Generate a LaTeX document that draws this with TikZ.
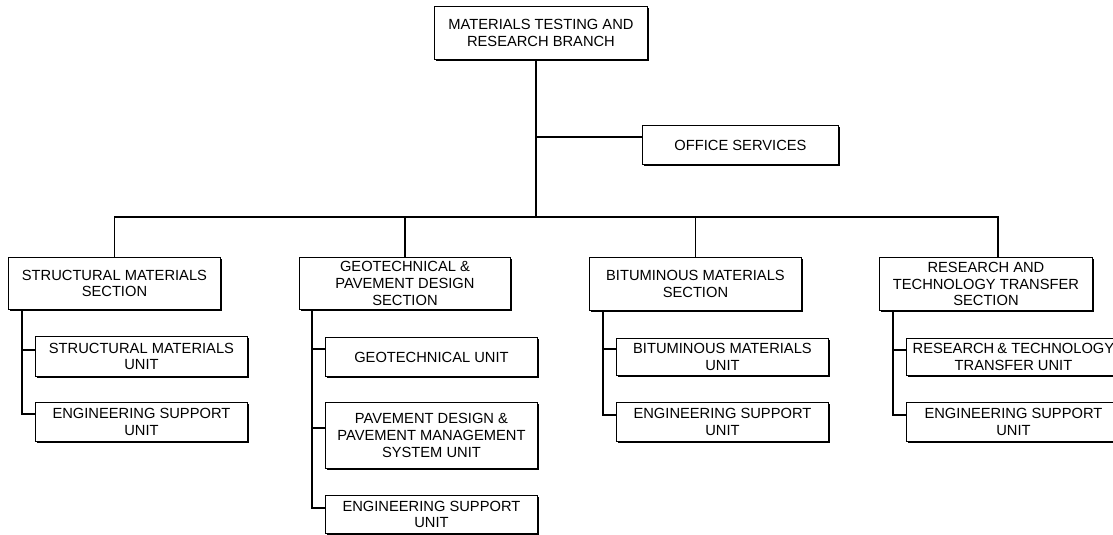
\documentclass[tikz,border=0pt]{standalone}
\usepackage{fontspec}
\setmainfont{Liberation Sans}
\usetikzlibrary{calc,shadows}
\begin{document}
\begin{tikzpicture}[x=1pt,y=-1pt,
  box/.style={draw=black, line width=0.9pt, fill=white, anchor=north west,
    inner sep=0pt, align=center, text=black,
    font=\fontsize{14.7}{16.9}\selectfont,
    drop shadow={shadow xshift=2pt, shadow yshift=-2pt, opacity=1, fill=black}},
  link/.style={draw=black, line width=1.1pt}]
\clip (0,0) rectangle (1113,535);
\fill[white] (0,0) rectangle (1113,535);

% head and staff office
\node[box, minimum width=213pt, minimum height=53pt] (head) at (434,6)
  {MATERIALS TESTING AND\\RESEARCH BRANCH};
\node[box, minimum width=196pt, minimum height=39pt] (office) at (642,125)
  {OFFICE SERVICES};

% sections
\node[box, minimum width=212pt, minimum height=52pt] (s1) at (8,257)
  {STRUCTURAL MATERIALS\\SECTION};
\node[box, minimum width=211pt, minimum height=52pt] (s2) at (299,257)
  {GEOTECHNICAL \&\\PAVEMENT DESIGN\\SECTION};
\node[box, minimum width=212pt, minimum height=53pt] (s3) at (589,257)
  {BITUMINOUS MATERIALS\\SECTION};
\node[box, minimum width=213pt, minimum height=53pt] (s4) at (879,257)
  {RESEARCH AND\\TECHNOLOGY TRANSFER\\SECTION};

% units
\node[box, minimum width=212pt, minimum height=40pt] (u11) at (35,336)
  {STRUCTURAL MATERIALS\\UNIT};
\node[box, minimum width=212pt, minimum height=39pt] (u12) at (35,402)
  {ENGINEERING SUPPORT\\UNIT};
\node[box, minimum width=212pt, minimum height=39pt] (u21) at (325,337)
  {GEOTECHNICAL UNIT};
\node[box, minimum width=212pt, minimum height=66pt] (u22) at (325,402)
  {PAVEMENT DESIGN \&\\PAVEMENT MANAGEMENT\\SYSTEM UNIT};
\node[box, minimum width=212pt, minimum height=38pt] (u23) at (325,495)
  {ENGINEERING SUPPORT\\UNIT};
\node[box, minimum width=212pt, minimum height=37pt] (u31) at (616,338)
  {BITUMINOUS MATERIALS\\UNIT};
\node[box, minimum width=212pt, minimum height=39pt] (u32) at (616,402)
  {ENGINEERING SUPPORT\\UNIT};
\node[box, minimum width=214pt, minimum height=37pt] (u41) at (906,338)
  {RESEARCH\kern-1pt{} \& TECHNOLOGY\\TRANSFER UNIT};
\node[box, minimum width=214pt, minimum height=39pt] (u42) at (906,402)
  {ENGINEERING SUPPORT\\UNIT};

% trunk, office branch and bus
\coordinate (bus) at (536,217);
\coordinate (t4) at (998,257);
\draw[link] (head.south -| bus) -- (bus);
\draw[link] (head.south -| bus) |- ($(office.north west)+(0,12)$);
\draw[link] (s1.north) |- (t4 |- bus) -- (t4);
\draw[link] (s2.north) -- (s2.north |- bus);
\draw[link] (s3.north) -- (s3.north |- bus);

% section spines to units
\draw[link] ([xshift=14pt]s1.south west) |- ($(u11.north west)+(0,14)$);
\draw[link] ([xshift=14pt]s1.south west) |- ($(u12.north west)+(0,12)$);
\draw[link] ([xshift=13pt]s2.south west) |- ($(u21.north west)+(0,12)$);
\draw[link] ([xshift=13pt]s2.south west) |- ($(u22.north west)+(0,26)$);
\draw[link] ([xshift=13pt]s2.south west) |- ($(u23.north west)+(0,13)$);
\draw[link] ([xshift=14pt]s3.south west) |- ($(u31.north west)+(0,11)$);
\draw[link] ([xshift=14pt]s3.south west) |- ($(u32.north west)+(0,13)$);
\draw[link] ([xshift=14pt]s4.south west) |- ($(u41.north west)+(0,12)$);
\draw[link] ([xshift=14pt]s4.south west) |- ($(u42.north west)+(0,13)$);
\end{tikzpicture}
\end{document}
